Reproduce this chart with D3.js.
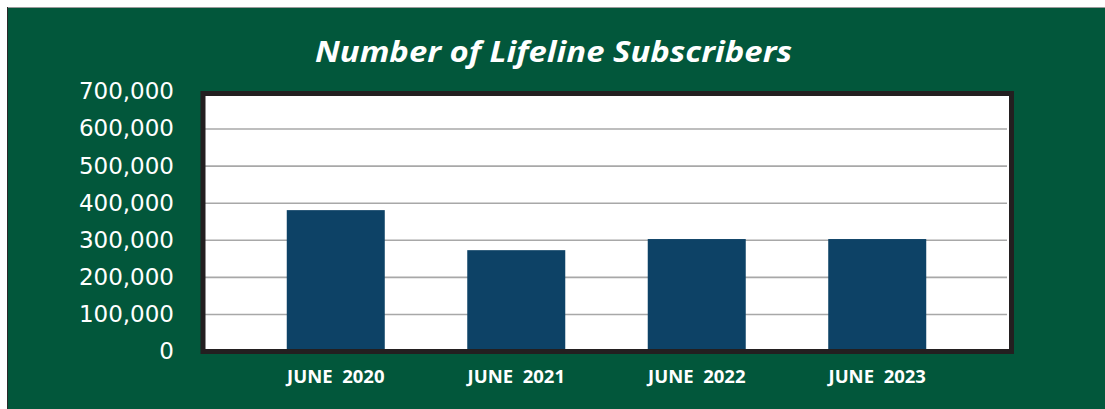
<!DOCTYPE html>
<html>
<head>
<meta charset="utf-8">
<script src="https://cdn.jsdelivr.net/npm/d3@7"></script>
<style>
html,body{margin:0;padding:0;background:#fff;}
svg{display:block;}
</style>
</head>
<body>
<svg id="chart" width="1105" height="409"></svg>
<script>
const categories = ["JUNE  2020", "JUNE  2021", "JUNE  2022", "JUNE  2023"];
const subscribers = [380000, 272000, 302000, 302000];
const yTicks = [0, 100000, 200000, 300000, 400000, 500000, 600000, 700000];
const titleText = "Number of Lifeline Subscribers";

const svg = d3.select("#chart");
const W = 1105, H = 409;

// outer background
svg.append("rect").attr("x", 7).attr("y", 7).attr("width", W - 7).attr("height", H - 7)
  .attr("fill", "#02573b");
svg.append("line").attr("x1", 7).attr("x2", W).attr("y1", 7.5).attr("y2", 7.5)
  .attr("stroke", "#9a9a9a").attr("stroke-width", 1.2);
svg.append("line").attr("x1", 7.5).attr("x2", 7.5).attr("y1", 7).attr("y2", H)
  .attr("stroke", "#2a2a2a").attr("stroke-width", 1);

// plot area
const plot = {left: 203, right: 1011.5, top: 93.5, bottom: 351.5};

const y = d3.scaleLinear().domain([0, 700000]).range([351, 91.5]);
const x = d3.scaleBand().domain(categories)
  .range([205, 1008]).paddingInner(0.457).paddingOuter(0.453);

svg.append("rect")
  .attr("x", plot.left).attr("y", plot.top)
  .attr("width", plot.right - plot.left).attr("height", plot.bottom - plot.top)
  .attr("fill", "#ffffff");

// gridlines
const grid = svg.append("g")
  .attr("transform", `translate(0,0)`)
  .call(d3.axisLeft(y).tickValues(yTicks.filter(v => v > 0 && v < 700000))
    .tickSize(-(1007 - 205)).tickFormat(""))
  .attr("transform", `translate(205,0)`);
grid.select(".domain").remove();
grid.selectAll(".tick line").attr("stroke", "#a8a8a8").attr("stroke-width", 1.6);

// bars
svg.append("g").selectAll("rect").data(subscribers).join("rect")
  .attr("x", (d, i) => x(categories[i]))
  .attr("width", x.bandwidth())
  .attr("y", d => y(d))
  .attr("height", d => y(0) - y(d))
  .attr("fill", "#0d4266");

// frame
svg.append("rect")
  .attr("x", plot.left).attr("y", plot.top)
  .attr("width", plot.right - plot.left).attr("height", plot.bottom - plot.top)
  .attr("fill", "none").attr("stroke", "#231f20").attr("stroke-width", 5);

// y axis labels
const yAxis = svg.append("g").attr("transform", "translate(183,0)")
  .call(d3.axisLeft(y).tickValues(yTicks).tickSize(0).tickPadding(9)
    .tickFormat(d3.format(",")));
yAxis.select(".domain").remove();
yAxis.selectAll("text")
  .attr("fill", "#ffffff")
  .style("font-family", "'DejaVu Sans', sans-serif")
  .style("font-size", "23px");

// x axis labels
const xAxis = svg.append("g").attr("transform", "translate(0,362)")
  .call(d3.axisBottom(x).tickSize(0).tickPadding(8));
xAxis.select(".domain").remove();
xAxis.selectAll("text")
  .attr("fill", "#ffffff")
  .style("font-family", "'Open Sans', sans-serif")
  .style("font-weight", "bold")
  .style("font-size", "18.5px")
  .style("white-space", "pre")
  .attr("xml:space", "preserve");

// title
svg.append("text")
  .attr("x", 553.5).attr("y", 62)
  .attr("text-anchor", "middle")
  .attr("fill", "#ffffff")
  .style("font-family", "'Open Sans', sans-serif")
  .style("font-weight", "bold")
  .style("font-style", "italic")
  .style("font-size", "29px")
  .attr("textLength", 477)
  .attr("lengthAdjust", "spacingAndGlyphs")
  .text(titleText);
</script>
</body>
</html>
